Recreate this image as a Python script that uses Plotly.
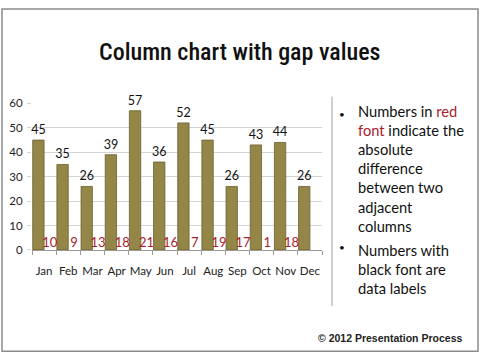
import plotly.graph_objects as go

months = ["Jan", "Feb", "Mar", "Apr", "May", "Jun", "Jul", "Aug", "Sep", "Oct", "Nov", "Dec"]
values = [45, 35, 26, 39, 57, 36, 52, 45, 26, 43, 44, 26]
gaps = [10, 9, 13, 18, 21, 16, 7, 19, 17, 1, 18, None]
y_ticks = [0, 10, 20, 30, 40, 50, 60]

W, H = 480, 362
def px(x):
    return x / W
def py(y):
    return (H - y) / H

fig = go.Figure()
fig.add_trace(go.Bar(
    x=months, y=values, text=[str(v) for v in values],
    textposition="outside", cliponaxis=False, constraintext="none",
    textfont=dict(family="Lato, Open Sans, sans-serif", size=12.5, color="#111111"),
    marker=dict(color="#938647", line=dict(color="#6A6030", width=0.8)),
    name="values", offsetgroup="a", alignmentgroup="g",
))
fig.add_trace(go.Bar(
    x=months, y=[0] * len(months),
    marker=dict(color="rgba(0,0,0,0)", line=dict(width=0)),
    name="spacer", offsetgroup="b", alignmentgroup="g", hoverinfo="skip",
))
fig.add_trace(go.Scatter(
    x=months, y=[0] * len(months), mode="text",
    text=["" if g is None else str(g) for g in gaps],
    textposition="top center", cliponaxis=False,
    textfont=dict(family="Lato, Open Sans, sans-serif", size=13, color="#A8222C"),
    name="gaps", offsetgroup="b", alignmentgroup="g",
))

fig.update_layout(
    width=W, height=H,
    margin=dict(l=0, r=0, t=0, b=0),
    paper_bgcolor="white", plot_bgcolor="white",
    showlegend=False,
    barmode="group", bargap=0.06, bargroupgap=0.0,
    scattermode="group", scattergap=0.06,
    xaxis=dict(
        domain=[px(32), px(322)],
        showline=True, linecolor="#9a9a9a", linewidth=1,
        ticks="outside", tickson="boundaries", ticklen=4, tickcolor="#9a9a9a",
        tickangle=0, ticklabelstandoff=10,
        tickfont=dict(family="Lato, Open Sans, sans-serif", size=11.5, color="#222222"),
        showgrid=False, fixedrange=True,
    ),
    yaxis=dict(
        domain=[py(252), py(100)],
        range=[0, 60], tickvals=y_ticks,
        showgrid=True, gridcolor="#d4d4d4", gridwidth=1,
        zeroline=False, showline=False,
        ticks="outside", ticklen=4, tickcolor="#d4d4d4",
        tickfont=dict(family="Lato, Open Sans, sans-serif", size=11.5, color="#222222"),
        ticklabelstandoff=2,
    ),
)

shapes = [
    dict(type="rect", xref="paper", yref="paper", x0=px(2), x1=px(478), y0=py(357), y1=py(2),
         line=dict(color="#8c8c8c", width=1.5), fillcolor="rgba(0,0,0,0)", layer="below"),
    dict(type="line", xref="paper", yref="paper", x0=px(332), x1=px(332), y0=py(310), y1=py(93),
         line=dict(color="#a0a0a0", width=1)),
]
fig.update_layout(shapes=shapes)

red = "#A8222C"
txtfont = dict(family="Lato, Open Sans, sans-serif", size=14.7, color="#111111")
bulletfont = dict(family="Lato, Open Sans, sans-serif", size=10, color="#111111")
annotations = [
    dict(text="Column chart with gap values",
         xref="paper", yref="paper",
         x=px(239), y=py(47), xanchor="center", yanchor="middle", showarrow=False,
         font=dict(family="Roboto Condensed, DejaVu Sans Condensed, Liberation Sans Narrow, Roboto",
                   size=24, color="#111111", weight=500)),
    dict(text="•", xref="paper", yref="paper", x=px(342), y=py(111), xanchor="center",
         yanchor="middle", showarrow=False, font=bulletfont),
    dict(text=("Numbers in <span style='color:%s'>red</span><br>"
               "<span style='color:%s'>font</span> indicate the<br>"
               "absolute<br>difference<br>between two<br>adjacent<br>columns") % (red, red),
         xref="paper", yref="paper", x=px(356), y=py(168), xanchor="left", yanchor="middle",
         align="left", showarrow=False, font=txtfont),
    dict(text="•", xref="paper", yref="paper", x=px(342), y=py(249), xanchor="center",
         yanchor="middle", showarrow=False, font=bulletfont),
    dict(text="Numbers with<br>black font are<br>data labels",
         xref="paper", yref="paper", x=px(356), y=py(272), xanchor="left", yanchor="middle",
         align="left", showarrow=False, font=txtfont),
    dict(text="<b>© 2012 Presentation Process</b>", xref="paper", yref="paper",
         x=px(464), y=py(343), xanchor="right", yanchor="middle", showarrow=False,
         font=dict(family="Liberation Sans, Arial, sans-serif", size=10.5, color="#222222")),
]
fig.update_layout(annotations=annotations)

fig.write_html("out.html", config={"displayModeBar": False},
               post_script="document.body.style.margin='0';document.body.style.padding='0';")
